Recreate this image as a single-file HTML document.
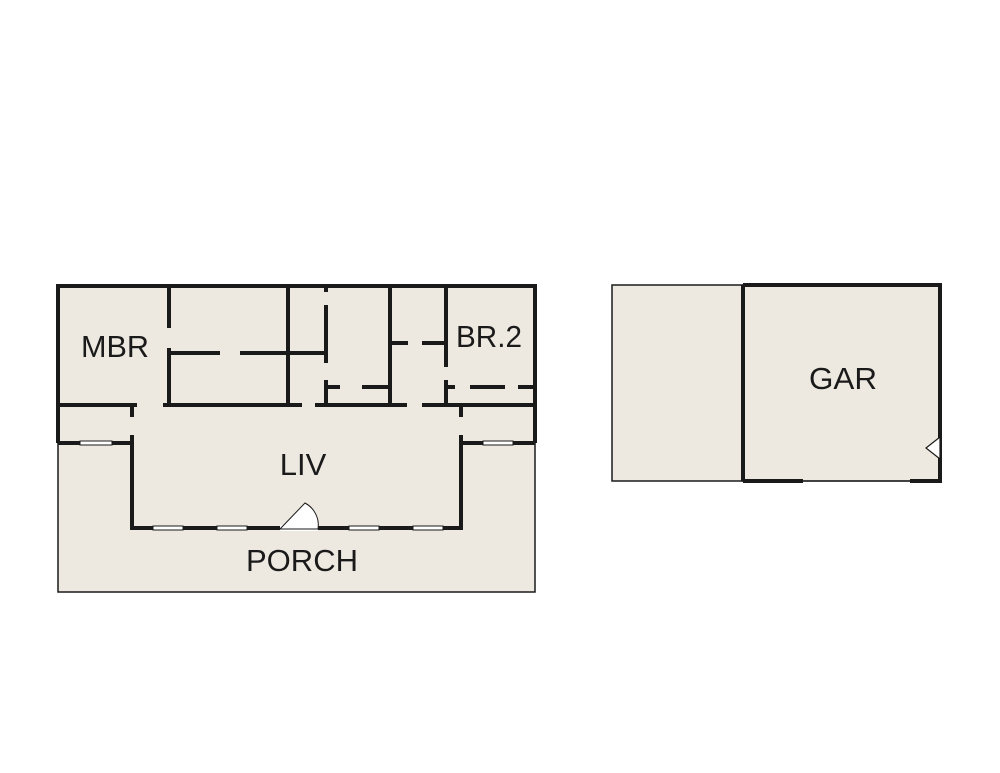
<!DOCTYPE html>
<html><head><style>body{margin:0;background:#fff}svg{display:block}</style></head><body>
<svg width="1000" height="773" viewBox="0 0 1000 773" xmlns="http://www.w3.org/2000/svg">
<g fill="#ede9e0" stroke="#1a1a1a" stroke-width="1.5">
<rect x="58" y="286" width="477" height="306"/>
<rect x="612" y="285" width="131" height="196"/>
<rect x="743" y="285" width="197" height="196"/>
</g>
<g stroke="#1a1a1a" stroke-width="4" fill="none" stroke-linecap="butt">
<path d="M56 286H537M58 286V443M535 286V443"/>
<path d="M58 405H137M163 405H302M315 405H407M422 405H535"/>
<path d="M169 286V328M169 348V405M169 353H220M240 353H327"/>
<path d="M288 286V405"/>
<path d="M326 286V292M326 305V363M326 380V405M326 387H340M362 387H390"/>
<path d="M390 286V405M390 343H408M422 343H445"/>
<path d="M446 286V367M446 380V405M446 387H455M470 387H505M518 387H535"/>
<path d="M132 405V417M132 435V530M461 405V417M461 435V530"/>
<path d="M58 443H132M461 443H535"/>
<path d="M132 528H461"/>
<path d="M743 285H942M743 285V481M940 285V481M743 481H803M910 481H942"/>
</g>
<g fill="#fff" stroke="#1a1a1a" stroke-width="1">
<rect x="80" y="441" width="32" height="4"/>
<rect x="483" y="441" width="30" height="4"/>
<rect x="153" y="526" width="30" height="4"/>
<rect x="217" y="526" width="30" height="4"/>
<rect x="349" y="526" width="30" height="4"/>
<rect x="413" y="526" width="30" height="4"/>
<rect x="280" y="525" width="38" height="6" stroke="none"/>
<path d="M280 529L305 503A25 25 0 0 1 318 529Z"/>
<path d="M803 481H910" stroke-width="1.2"/>
<path d="M940 437L926 448L940 459Z" stroke-width="1.2"/>
</g>
<g font-family="Liberation Sans, sans-serif" font-size="31" fill="#1a1a1a" text-anchor="middle">
<text x="115" y="357" textLength="68" lengthAdjust="spacingAndGlyphs">MBR</text>
<text x="489" y="347" textLength="66" lengthAdjust="spacingAndGlyphs">BR.2</text>
<text x="303" y="475">LIV</text>
<text x="302" y="571" textLength="112" lengthAdjust="spacingAndGlyphs">PORCH</text>
<text x="843" y="389" textLength="68" lengthAdjust="spacingAndGlyphs">GAR</text>
</g>
</svg>
</body></html>
